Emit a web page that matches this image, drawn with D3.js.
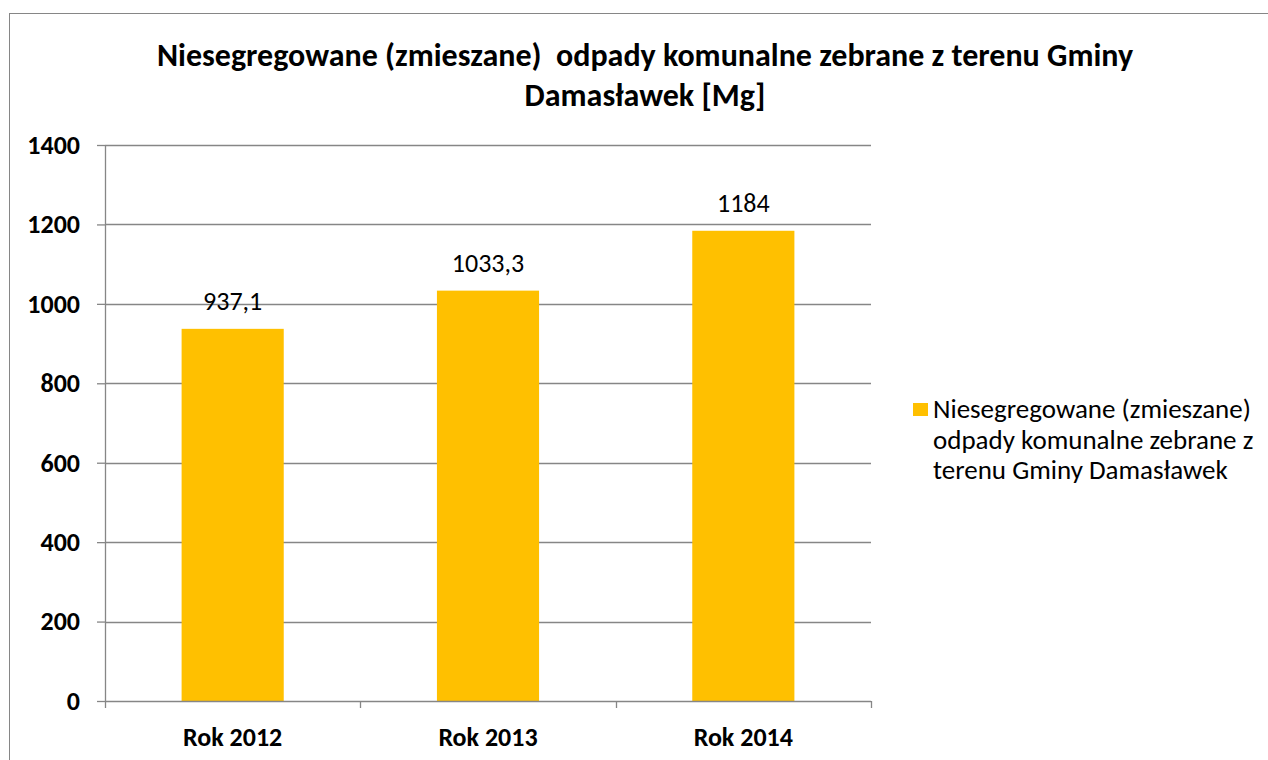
<!DOCTYPE html>
<html>
<head>
<meta charset="utf-8">
<script src="https://cdn.jsdelivr.net/npm/d3@7"></script>
<style>
  body { margin: 0; background: #fff; }
  svg { font-family: Carlito, Lato, "Open Sans", sans-serif; }
</style>
</head>
<body>
<svg id="chart" width="1268" height="760"></svg>
<script>
// values
const years = ['Rok 2012', 'Rok 2013', 'Rok 2014'];
const tonnes = [937.1, 1033.3, 1184];
const yTicks = [0, 200, 400, 600, 800, 1000, 1200, 1400];
const titleLines = ['Niesegregowane (zmieszane)  odpady komunalne zebrane z terenu Gminy', 'Damasławek [Mg]'];
const legendLines = ['Niesegregowane (zmieszane)', 'odpady komunalne zebrane z', 'terenu Gminy Damasławek'];

const svg = d3.select('#chart');
const plot = {left: 105, right: 871, top: 145, bottom: 701};
const grey = '#868686';
const barColor = '#FFC000';

// outer chart border
svg.append('rect')
  .attr('x', 9.5).attr('y', 13.5)
  .attr('width', 1300).attr('height', 800)
  .attr('fill', 'none').attr('stroke', grey);

const x = d3.scaleBand().domain(years).range([plot.left, plot.right]);
const y = d3.scaleLinear().domain([0, 1400]).range([plot.bottom, plot.top]);

// gridlines
svg.append('g').selectAll('line')
  .data(yTicks.filter(d => d > 0))
  .join('line')
    .attr('x1', plot.left).attr('x2', plot.right)
    .attr('y1', d => Math.round(y(d)) + 0.5).attr('y2', d => Math.round(y(d)) + 0.5)
    .attr('stroke', grey).attr('stroke-width', 1.3);

// bars
const barW = x.bandwidth() * 0.4;
svg.append('g').selectAll('rect')
  .data(tonnes)
  .join('rect')
    .attr('x', (d, i) => x(years[i]) + (x.bandwidth() - barW) / 2)
    .attr('y', d => y(d))
    .attr('width', barW)
    .attr('height', d => y(0) - y(d))
    .attr('fill', barColor);

// data labels
svg.append('g').selectAll('text')
  .data(tonnes)
  .join('text')
    .attr('x', (d, i) => x(years[i]) + x.bandwidth() / 2)
    .attr('y', d => y(d) - 19)
    .attr('text-anchor', 'middle')
    .attr('font-size', 26)
    .attr('fill', '#000')
    .text(d => String(d).replace('.', ','));

// y axis
const yAxis = svg.append('g')
  .attr('transform', `translate(${plot.left},0)`)
  .call(d3.axisLeft(y).tickValues(yTicks).tickFormat(d3.format('d')).tickSize(8).tickPadding(17));
yAxis.select('.domain').attr('stroke', grey).attr('stroke-width', 1.3).attr('d', `M0.5,${plot.top}V${plot.bottom}`);
yAxis.selectAll('.tick line').attr('stroke', grey).attr('stroke-width', 1.3);
yAxis.selectAll('.tick text')
  .attr('font-family', 'Carlito, Lato, "Open Sans", sans-serif')
  .attr('font-size', 26).attr('font-weight', 'bold').attr('fill', '#000');

// x axis, ticks between the categories
const xAxis = svg.append('g').attr('transform', `translate(0,${plot.bottom})`);
xAxis.append('line')
  .attr('x1', plot.left).attr('x2', plot.right)
  .attr('y1', 0.5).attr('y2', 0.5)
  .attr('stroke', grey).attr('stroke-width', 1.3);
xAxis.selectAll('.sep')
  .data(years.map(d => x(d)).concat([plot.right]))
  .join('line')
    .attr('class', 'sep')
    .attr('x1', d => Math.round(d) + 0.5).attr('x2', d => Math.round(d) + 0.5)
    .attr('y1', 0).attr('y2', 7)
    .attr('stroke', grey).attr('stroke-width', 1.3);
xAxis.selectAll('.lbl')
  .data(years)
  .join('text')
    .attr('class', 'lbl')
    .attr('x', d => x(d) + x.bandwidth() / 2)
    .attr('y', 45)
    .attr('text-anchor', 'middle')
    .attr('font-size', 26).attr('font-weight', 'bold')
    .text(d => d);

// title
svg.append('g').selectAll('text')
  .data(titleLines)
  .join('text')
    .attr('x', 645)
    .attr('y', (d, i) => 66 + i * 40)
    .attr('text-anchor', 'middle')
    .attr('font-size', 32).attr('font-weight', 'bold')
    .style('white-space', 'pre')
    .text(d => d);

// legend
const legend = svg.append('g');
legend.append('rect')
  .attr('x', 913).attr('y', 403)
  .attr('width', 15).attr('height', 13)
  .attr('fill', barColor);
legend.selectAll('text')
  .data(legendLines)
  .join('text')
    .attr('x', 933)
    .attr('y', (d, i) => 418 + i * 30.5)
    .attr('font-size', 27)
    .text(d => d);
</script>
</body>
</html>
